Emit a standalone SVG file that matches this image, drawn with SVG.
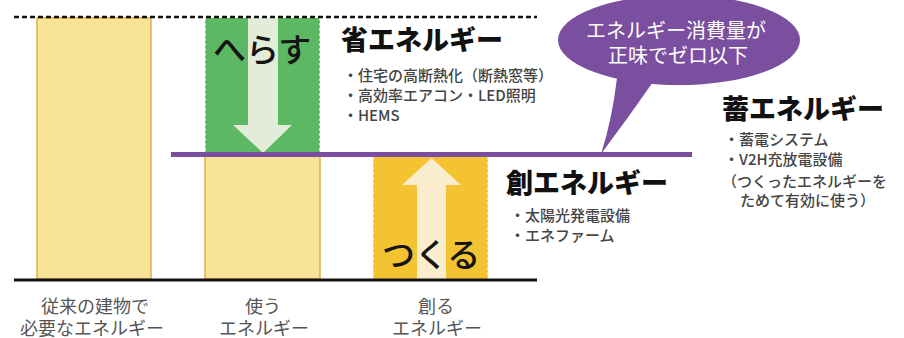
<svg xmlns="http://www.w3.org/2000/svg" width="904" height="338" viewBox="0 0 904 338">
<style>
.jp{font-family:"Noto Sans CJK JP","Noto Sans",sans-serif}
.title{font-size:27px;font-weight:900;fill:#111}
.item{font-size:15px;fill:#444;font-weight:500}
.lab{font-size:18px;fill:#555;text-anchor:middle}
.big{font-size:33px;fill:#151515;font-weight:500}
.bar{fill:#f8e396;stroke:#e2ad4c;stroke-width:1.5}
</style>
<rect width="904" height="338" fill="#fff"/>
<g id="bar-conventional">
<rect class="bar" x="37" y="18" width="114" height="261"/>
</g>
<g id="bar-use">
<rect class="bar" x="205" y="154" width="115" height="125"/>
<rect x="205" y="18" width="115" height="136" fill="#5cb862"/>
<path d="M205.5 18V154M319.5 18V154" stroke="#c8e8c8" stroke-width="1" stroke-dasharray="3 2"/>
<path d="M248 18H278V125H292L263 153L233 125H248Z" fill="#e3ecd8"/>
<text class="jp big" x="213" y="62">へらす</text>
</g>
<g id="bar-create">
<rect x="373" y="157" width="115" height="122" fill="#f3c332"/>
<path d="M373.5 157V279M487.5 157V279" stroke="#f8e2a0" stroke-width="1" stroke-dasharray="3 2"/>
<path d="M417 279V185H402L431.5 158L461 185H446V279Z" fill="#faedcd"/>
<text class="jp big" x="382" y="267">つくる</text>
</g>
<g id="connectors">
<line x1="14" y1="17" x2="537" y2="17" stroke="#111" stroke-width="2.5" stroke-dasharray="5 3"/>
<line x1="14" y1="280" x2="537" y2="280" stroke="#111" stroke-width="3"/>
<line x1="171" y1="154.5" x2="692" y2="154.5" stroke="#7a4e9f" stroke-width="5"/>
</g>
<g id="bubble">
<ellipse cx="679" cy="40" rx="121" ry="45" fill="#7b4f9f"/>
<path d="M617 78Q612 120 601 154Q628 118 653 82Z" fill="#7b4f9f"/>
<text class="jp" x="676" y="38" font-size="20" fill="#fff" text-anchor="middle">エネルギー消費量が</text>
<text class="jp" x="678" y="63" font-size="20" fill="#fff" text-anchor="middle">正味でゼロ以下</text>
</g>
<g id="save-energy">
<text class="jp title" x="341" y="50">省エネルギー</text>
<text class="jp item" x="343" y="81">・住宅の高断熱化（断熱窓等）</text>
<text class="jp item" x="343" y="101">・高効率エアコン・LED照明</text>
<text class="jp item" x="343" y="121">・HEMS</text>
</g>
<g id="store-energy">
<text class="jp title" x="722" y="119">蓄エネルギー</text>
<text class="jp item" x="724" y="145">・蓄電システム</text>
<text class="jp item" x="724" y="165">・V2H充放電設備</text>
<text class="jp item" x="722" y="187" font-size="16">（つくったエネルギーを</text>
<text class="jp item" x="740" y="206" font-size="16">ためて有効に使う）</text>
</g>
<g id="create-energy">
<text class="jp title" x="506" y="193">創エネルギー</text>
<text class="jp item" x="510" y="221">・太陽光発電設備</text>
<text class="jp item" x="510" y="241">・エネファーム</text>
</g>
<g id="labels">
<text class="jp lab" x="95" y="313">従来の建物で</text>
<text class="jp lab" x="92" y="335">必要なエネルギー</text>
<text class="jp lab" x="263" y="313">使う</text>
<text class="jp lab" x="264" y="335">エネルギー</text>
<text class="jp lab" x="436" y="313">創る</text>
<text class="jp lab" x="437" y="335">エネルギー</text>
</g>
</svg>
